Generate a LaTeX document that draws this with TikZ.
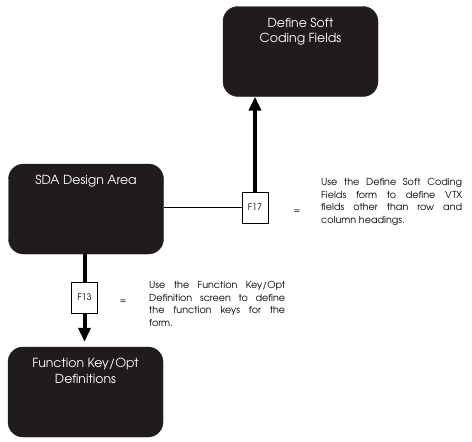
\documentclass[tikz,border=0pt]{standalone}
\usepackage{fontspec}
\setmainfont{TeX Gyre Adventor}
\usetikzlibrary{arrows.meta}
\definecolor{boxfill}{RGB}{32,27,30}
\hyphenpenalty=10000
\exhyphenpenalty=10000

\begin{document}
\begin{tikzpicture}[x=1pt,y=-1pt,
        darkbox/.style={draw=boxfill,fill=boxfill,rounded corners=15pt,minimum width=155pt,minimum height=90pt},
        boxtext/.style={text=white,font=\fontsize{12.5}{15.5}\selectfont,align=center,anchor=north,yshift=-8pt},
        keybox/.style={draw,fill=white,line width=0.8pt,minimum width=26pt,minimum height=31pt,inner sep=0pt,font=\fontsize{9}{11}\selectfont},
        note/.style={font=\fontsize{9.6}{12.8}\selectfont,align=justify,anchor=west,inner sep=0pt},
        thick arrow/.style={line width=4pt,-{Triangle[width=12pt,length=14pt]}}]
                \useasboundingbox (0,0) rectangle (472,442);
                \node[darkbox,label={[boxtext]north:Define Soft\\Coding Fields}] (soft) at (300.5,51.5) {};
                \node[darkbox,label={[boxtext]north:SDA Design Area}] (sda) at (86,209) {};
                \node[darkbox,label={[boxtext]north:Function Key/Opt\\Definitions}] (fkey) at (85.5,392) {};
                
                \node[keybox] (f17) at (255,207.5) {F17};
                \node[keybox] (f13) at (84.5,297.5) {F13};
                
                \draw[line width=0.8pt] (sda.east |- f17.west) -- (f17.west);
                \draw[thick arrow] (f17.north) -- (f17.north |- soft.south);
                \draw[thick arrow,shorten >=5pt] (f13.south) -- (f13.south |- fkey.north);
                \draw[line width=4pt] (sda.south -| f13.north) -- (f13.north);
                
                \node (eq17) at (297,212) {\fontsize{9}{11}\selectfont =};
                \node (eq13) at (123,302) {\fontsize{9}{11}\selectfont =};
                \node[note,text width=141pt] (note17) at (321,202) {Use the Define Soft Coding \linebreak Fields form to define VTX \linebreak fields other than row and \linebreak column headings.};
                \node[note,text width=136pt] (note13) at (149,304) {Use the Function Key/Opt \linebreak Definition screen to define \linebreak the function keys for the \linebreak form.};
            \end{tikzpicture}
\end{document}
